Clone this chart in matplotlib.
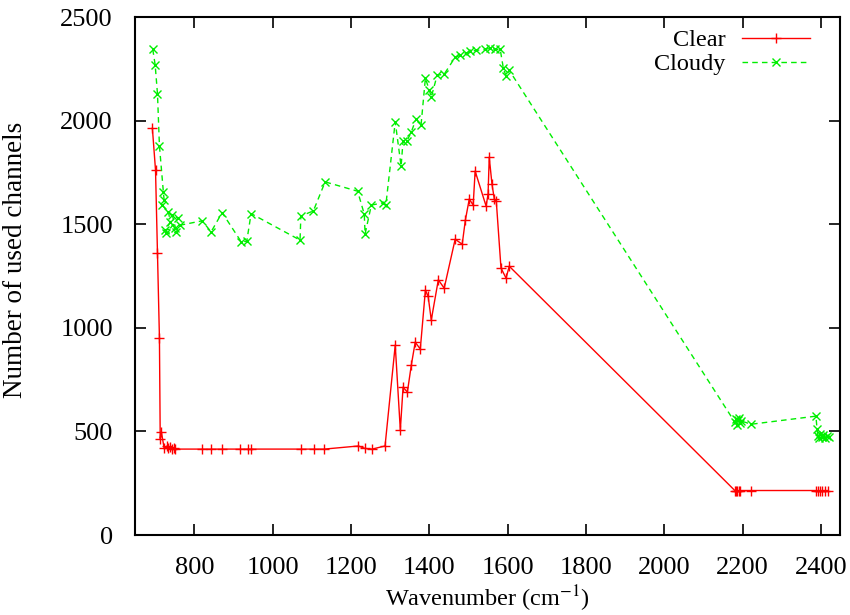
import numpy as np
import matplotlib
matplotlib.use("Agg")
import matplotlib.pyplot as plt

#%% Dados
clear_x = [693, 701, 706, 711, 713, 716, 723, 731, 734, 739, 744, 749, 752,
           820, 843, 871, 917, 938, 945, 1073, 1106, 1132, 1219, 1236, 1254,
           1287, 1313, 1326, 1333, 1344, 1354, 1364, 1377, 1390, 1397, 1405,
           1423, 1438, 1466, 1484, 1492, 1502, 1512, 1517, 1545, 1550, 1553,
           1560, 1566, 1571, 1583, 1596, 1604,
           2180, 2183, 2186, 2190, 2194, 2222, 2388, 2392, 2397, 2402, 2410, 2418]
clear_y = [1964, 1762, 1361, 951, 466, 497, 420, 430, 418, 425, 415, 420, 415,
           415, 415, 415, 415, 415, 415, 415, 415, 415, 430, 418, 415,
           430, 917, 507, 714, 690, 820, 931, 898, 1182, 1153, 1038,
           1232, 1192, 1428, 1404, 1520, 1622, 1593, 1757, 1588, 1646, 1824,
           1694, 1622, 1612, 1289, 1240, 1298,
           215, 215, 215, 215, 215, 215, 215, 215, 215, 215, 215, 215]

cloudy_x = [694, 700, 706, 711, 721, 723, 718, 734, 739, 726, 752, 744, 759,
            729, 754, 764, 820, 843, 871, 920, 934, 945, 1070, 1072, 1104,
            1134, 1217, 1234, 1236, 1252, 1282, 1289, 1313, 1328, 1333, 1343,
            1354, 1366, 1379, 1390, 1400, 1405, 1420, 1438, 1466, 1479, 1494,
            1504, 1520, 1543, 1555, 1568, 1581, 1589, 1596, 1604,
            2180, 2183, 2186, 2188, 2190, 2193, 2197, 2222,
            2387, 2390, 2392, 2395, 2398, 2402, 2406, 2410, 2415, 2420]
cloudy_y = [2345, 2271, 2131, 1879, 1657, 1617, 1593, 1559, 1511, 1472, 1482,
            1545, 1530, 1457, 1462, 1496, 1517, 1464, 1557, 1415, 1419, 1552,
            1424, 1540, 1565, 1705, 1660, 1549, 1453, 1593, 1604, 1593, 1995,
            1781, 1903, 1903, 1946, 2008, 1982, 2205, 2148, 2114, 2220, 2225,
            2307, 2316, 2326, 2336, 2340, 2345, 2350, 2345, 2345, 2254, 2215,
            2244,
            545, 560, 530, 555, 565, 540, 550, 535,
            574, 510, 480, 470, 490, 475, 485, 470, 480, 475]

x_ticks = [800, 1000, 1200, 1400, 1600, 1800, 2000, 2200, 2400]
y_ticks = [0, 500, 1000, 1500, 2000, 2500]

#%% Plot
plt.rcParams['font.family'] = ['Liberation Serif', 'DejaVu Serif']
plt.rcParams['mathtext.fontset'] = 'stix'

fig = plt.figure(figsize=(8.5, 6.15), dpi=100)
ax = fig.add_axes([0.159, 0.130, 0.829, 0.842])

ax.plot(clear_x, clear_y, color='#ff0000', linestyle='-', linewidth=1.0,
        marker='+', markersize=7, markeredgewidth=1.0, label='Clear')
ax.plot(cloudy_x, cloudy_y, color='#00ee00', linestyle='--', linewidth=1.0,
        dashes=(4, 3), marker='x', markersize=6, markeredgewidth=1.0,
        label='Cloudy')

ax.set_xlim(649, 2448)
ax.set_ylim(0, 2500)
ax.set_xticks(x_ticks)
ax.set_yticks(y_ticks)
ax.tick_params(direction='in', length=8, width=1.2, top=True, right=True,
               labelsize=19)
ax.tick_params(axis='x', pad=16)
ax.tick_params(axis='y', pad=16)
for s in ax.spines.values():
    s.set_linewidth(1.5)

ax.set_xlabel('Wavenumber (cm$^{-1}$)', fontsize=17.5, labelpad=3)
ax.set_ylabel('Number of used channels', fontsize=19.5)
ax.yaxis.set_label_coords(-0.152, 0.531)

ax.legend(loc='upper right', bbox_to_anchor=(0.972, 0.996), frameon=False,
          markerfirst=False, numpoints=1, fontsize=17.5, handlelength=2.8,
          borderaxespad=0, labelspacing=0.1, handletextpad=0.7)

fig.savefig('out.png', dpi=100)
